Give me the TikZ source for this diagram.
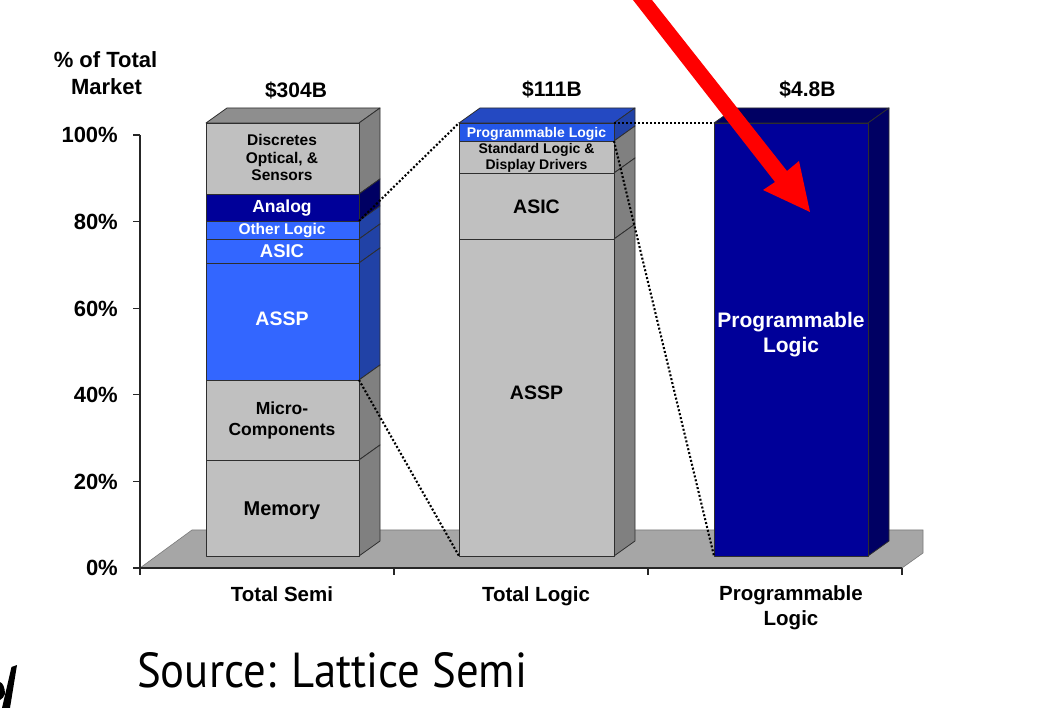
\documentclass[tikz,border=0pt]{standalone}
\usepackage{fontspec}
\usepackage{graphicx}
\setmainfont{Liberation Sans}
\newfontfamily\srcfont{PT Sans}

\definecolor{frontgray}{HTML}{C0C0C0}
\definecolor{sidegray}{HTML}{808080}
\definecolor{topgray}{HTML}{8E8E8E}
\definecolor{floorgray}{HTML}{A6A6A6}
\definecolor{flooredge}{HTML}{7A7A7A}
\definecolor{frontblue}{HTML}{3366FF}
\definecolor{sideblue}{HTML}{2142A6}
\definecolor{frontnavy}{HTML}{000099}
\definecolor{sidenavy}{HTML}{000063}
\definecolor{plfront}{HTML}{2457E8}
\definecolor{pltop}{HTML}{2449C2}
\definecolor{edgecol}{HTML}{2E2E2E}
\definecolor{arrowred}{HTML}{FF0000}

\newcommand{\mybarseg}[6]{%
  \fill[#5] (#1,#3) rectangle (#2,#4);
  \fill[#6] (#2,#3) -- ++(21,-15) -- (#2+21,#4-15) -- (#2,#4) -- cycle;
  \draw[edgeline] (#1,#3) rectangle (#2,#4);
  \draw[edgeline] (#2,#3) -- ++(21,-15) -- (#2+21,#4-15) -- (#2,#4);
}
\newcommand{\mybartop}[4]{%
  \filldraw[edgeline, fill=#4] (#1,#3) -- ++(21,-15) -- (#2+21,#3-15) -- (#2,#3) -- cycle;
}

\begin{document}
\begin{tikzpicture}[x=1pt,y=-1pt,
  edgeline/.style={draw=edgecol, line width=0.8pt, line join=round},
  axisline/.style={draw=black!85, line width=1.1pt},
  dotline/.style={draw=black, line width=2.1pt, dash pattern=on 2pt off 2pt},
  lbl/.style={inner sep=0pt, anchor=base, font=\bfseries\fontsize{#1}{#1}\selectfont},
  lbl/.default=20,
  wlbl/.style={lbl=#1, text=white},
  wlbl/.default=20,
  ticklbl/.style={inner sep=0pt, anchor=base east, font=\bfseries\fontsize{22}{22}\selectfont}
]
\useasboundingbox (0,0) rectangle (1053,708);
\fill[white] (0,0) rectangle (1053,708);

% floor
\filldraw[fill=floorgray, draw=flooredge, line width=0.6pt]
  (140,568) -- (192,530) -- (923,530) -- (923,553) -- (902,568) -- cycle;

% axes
\draw[axisline] (140,135) -- (140,575);
\draw[axisline, line width=1.6pt] (140,568) -- (902,568);
\foreach \yy in {135,221.6,308.2,394.8,481.4,568} \draw[axisline] (133,\yy) -- (140,\yy);
\foreach \xx in {394,648,902} \draw[axisline] (\xx,568) -- (\xx,575);

% tick labels
\node[ticklbl] (t100) at (118,143) {100\%};
\node[ticklbl] (t80) at (118,229.6) {80\%};
\node[ticklbl] (t60) at (118,316.2) {60\%};
\node[ticklbl] (t40) at (118,402.8) {40\%};
\node[ticklbl] (t20) at (118,489.4) {20\%};
\node[ticklbl] (t0) at (118,576) {0\%};

% axis title
\node[lbl=22] (ttl1) at (105.5,68) {\% of Total};
\node[lbl=22] (ttl2) at (106.5,95) {Market};

% bar 1: Total Semi
\mybartop{206}{359}{123}{topgray}
\mybarseg{206}{359}{123}{194}{frontgray}{sidegray}
\mybarseg{206}{359}{194}{221}{frontnavy}{sidenavy}
\mybarseg{206}{359}{221}{239}{frontblue}{sideblue}
\mybarseg{206}{359}{239}{263}{frontblue}{sideblue}
\mybarseg{206}{359}{263}{380}{frontblue}{sideblue}
\mybarseg{206}{359}{380}{460}{frontgray}{sidegray}
\mybarseg{206}{359}{460}{556}{frontgray}{sidegray}

% bar 2: Total Logic
\mybartop{459}{614}{123}{pltop}
\mybarseg{459}{614}{123}{141}{plfront}{sideblue}
\mybarseg{459}{614}{141}{173}{frontgray}{sidegray}
\mybarseg{459}{614}{173}{239}{frontgray}{sidegray}
\mybarseg{459}{614}{239}{556}{frontgray}{sidegray}

% bar 3: Programmable Logic
\mybartop{714}{868}{123}{sidenavy}
\mybarseg{714}{868}{123}{556}{frontnavy}{sidenavy}

% connector anchor points
\coordinate (b1ol) at (359,221);
\coordinate (b1assp) at (359,380);
\coordinate (b2tl) at (459,123);
\coordinate (b2bl) at (459,556);
\coordinate (b2tr) at (614,123);
\coordinate (b2pl) at (614,141);
\coordinate (b3tl) at (714,123);
\coordinate (b3bl) at (714,556);

% dotted connectors
\draw[dotline] (b1ol) -- (b2tl);
\draw[dotline] (b1assp) -- (b2bl);
\draw[dotline] (b2tr) -- (b3tl);
\draw[dotline] (b2pl) -- (b3bl);

% value labels
\node[lbl=21] (v1) at (296,98) {\$304B};
\node[lbl=21] (v2) at (552,97) {\$111B};
\node[lbl=21] (v3) at (807.5,97) {\$4.8B};

% bar 1 labels
\node[lbl=15.5] (d1) at (282,146) {Discretes};
\node[lbl=15.5] (d2) at (282,164) {Optical, \&};
\node[lbl=15.5] (d3) at (282,181) {Sensors};
\node[wlbl=17.5] (an) at (282,213) {Analog};
\node[wlbl=15.5] (ol) at (282,235) {Other Logic};
\node[wlbl=18.5] (as1) at (282,258) {ASIC};
\node[wlbl=19.5] (sp1) at (282,326) {ASSP};
\node[lbl=17.5] (mc1) at (282,415) {Micro-};
\node[lbl=17.5] (mc2) at (282,436) {Components};
\node[lbl=20] (mem) at (282,515) {Memory};

% bar 2 labels
\node[wlbl=14] (pl2) at (536.5,138) {Programmable Logic};
\node[lbl=14] (sl1) at (536.5,154) {Standard Logic \&};
\node[lbl=14] (sl2) at (536.5,170) {Display Drivers};
\node[lbl=19.5] (as2) at (536.5,214) {ASIC};
\node[lbl=19.5] (sp2) at (536.5,400) {ASSP};

% bar 3 labels
\node[wlbl=21] (pl3a) at (791,328) {Programmable};
\node[wlbl=21] (pl3b) at (791,353) {Logic};

% category labels
\node[lbl=20.5] (c1) at (282,601) {Total Semi};
\node[lbl=20.5] (c2) at (536,601) {Total Logic};
\node[lbl=20.5] (c3a) at (791,600) {Programmable};
\node[lbl=20.5] (c3b) at (791,625) {Logic};

% red arrow
\fill[arrowred] (633,0) -- (775,182) -- (763,190) -- (810,212) -- (799,161) -- (787,171) -- (652,0) -- cycle;

% source
\node[inner sep=0pt, anchor=base west] (src) at (137,687)
  {\resizebox{390pt}{35pt}{\srcfont Source: Lattice Semi}};

% cropped glyph at bottom-left
\fill[black] (11.5,667) -- (17,665) -- (10,708) -- (2,708) -- cycle;
\fill[black] (0,682) .. controls (3,683) and (5,688) .. (5,694) .. controls (4,697) and (2,699) .. (0,700) -- cycle;
\end{tikzpicture}
\end{document}
